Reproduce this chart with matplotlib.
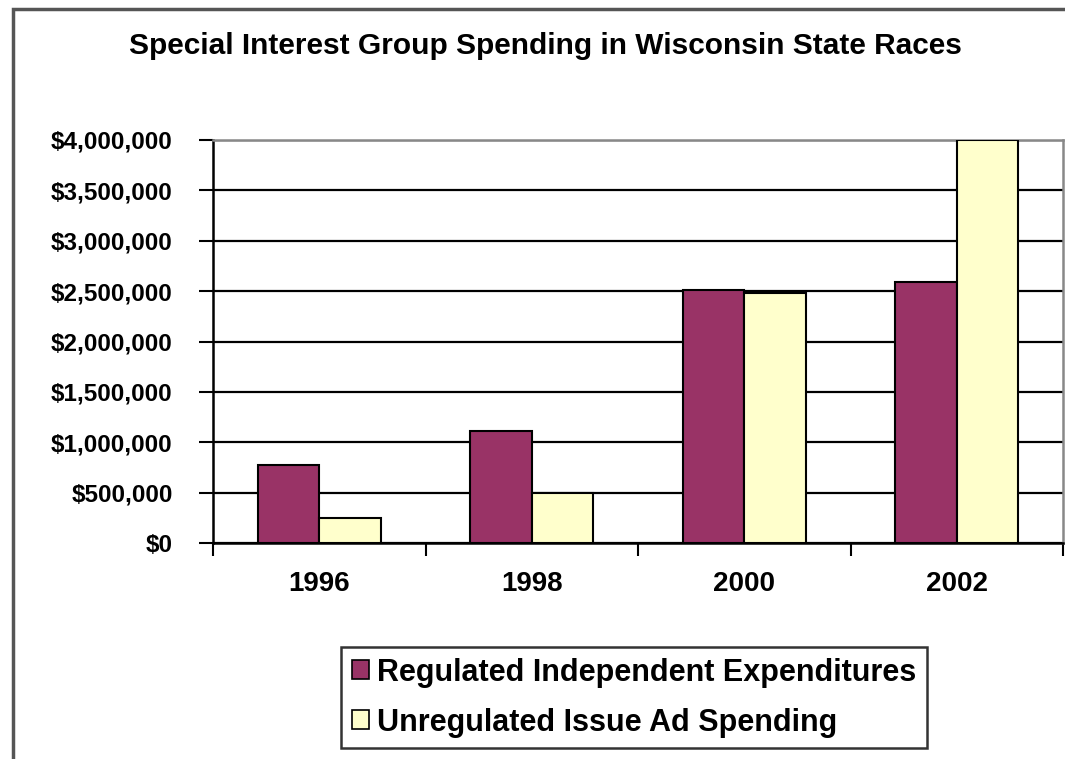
import matplotlib.pyplot as plt
from matplotlib.patches import Rectangle
from matplotlib.ticker import FuncFormatter, FixedLocator

years = ['1996', '1998', '2000', '2002']
regulated = [775000, 1115000, 2510000, 2595000]
unregulated = [250000, 500000, 2480000, 4000000]
series_names = ['Regulated Independent Expenditures', 'Unregulated Issue Ad Spending']
yticks = [0, 500000, 1000000, 1500000, 2000000, 2500000, 3000000, 3500000, 4000000]

plt.rcParams['font.family'] = ['Liberation Sans', 'DejaVu Sans']
plt.rcParams['font.weight'] = 'bold'

fig = plt.figure(figsize=(10.65, 7.59), dpi=100)
ax = fig.add_axes([213/1065, 1-543/759, 850/1065, 403/759])

# outer chart border
fig.patches.append(Rectangle((13/1065, -0.1), 1.2, 1-9/759+0.1, transform=fig.transFigure,
                             fill=False, edgecolor='#555555', linewidth=2.5))

w = 0.29
x = [i + 0.5 for i in range(len(years))]
ax.bar([v - w/2 for v in x], regulated, width=w, color='#993366', edgecolor='black', linewidth=1.5,
       label=series_names[0], zorder=3)
ax.bar([v + w/2 for v in x], unregulated, width=w, color='#FFFFCC', edgecolor='black', linewidth=1.5,
       label=series_names[1], zorder=3)

ax.set_xlim(0, len(years))
ax.set_ylim(0, 4000000)
ax.set_yticks(yticks)
ax.yaxis.set_major_formatter(FuncFormatter(lambda v, p: '${:,.0f}'.format(v)))
ax.grid(axis='y', color='black', linewidth=1.6, zorder=0)
ax.set_axisbelow(True)

ax.xaxis.set_major_locator(FixedLocator(range(len(years) + 1)))
ax.xaxis.set_minor_locator(FixedLocator(x))
ax.set_xticklabels([], minor=False)
ax.set_xticklabels(years, minor=True)
ax.tick_params(axis='x', which='major', direction='out', length=9, width=1.5)
ax.tick_params(axis='x', which='minor', length=0, pad=20, labelsize=20)
ax.tick_params(axis='y', direction='out', length=10, width=1.5, pad=19, labelsize=17.5)

for s in ['left', 'bottom']:
    ax.spines[s].set_linewidth(1.8)
    ax.spines[s].set_color('black')
for s in ['top', 'right']:
    ax.spines[s].set_linewidth(1.8)
    ax.spines[s].set_color('#888888')

fig.text(545/1065, 1-46/759, 'Special Interest Group Spending in Wisconsin State Races',
         ha='center', va='center', fontsize=21.5, fontweight='bold')

leg = fig.legend(loc='upper left', bbox_to_anchor=(341/1065, 1-647/759), fontsize=22,
                 frameon=True, fancybox=False, handlelength=0.58, handleheight=0.58,
                 handletextpad=0.25, borderpad=0.35, labelspacing=0.65, borderaxespad=0)
leg.get_frame().set_edgecolor('black')
leg.get_frame().set_linewidth(1.8)
for h in leg.legend_handles:
    h.set_linewidth(1.2)

fig.savefig('out.png', dpi=100)
